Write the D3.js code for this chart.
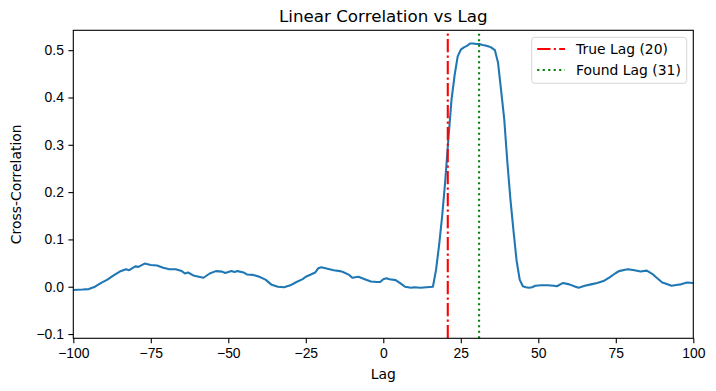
<!DOCTYPE html>
<meta charset="utf-8">
<style>
body { margin: 0; padding: 0; background: #fff; }
svg { display: block; font-family: "DejaVu Sans", sans-serif; }
.tick text { font-size: 13.9px; fill: #000; }
.tick line { stroke: #000; stroke-width: 1.1px; }
.domain { display: none; }
</style>
<body>
<div id="chart"></div>
<script src="https://cdn.jsdelivr.net/npm/d3@7"></script>
<script>
// lag values
var lags = [-100, -97, -95, -93, -91, -89, -87, -85, -83, -82, -80, -79, -77, -75, -73, -71, -69, -67, -65, -64,
	-63, -61, -58, -56, -54, -52, -51, -49, -48, -47, -45, -44, -42, -40, -38, -36, -34, -32, -30, -28,
	-26, -25, -23, -22, -21, -20, -18, -16, -14, -13, -11, -10, -8, -6, -4, -2, -1, 0, 1, 2,
	4, 6, 7, 9, 10, 12, 14, 16, 17, 18, 19, 20, 21, 22, 23, 24, 25, 26, 27, 28,
	29, 30, 31, 32, 33, 34, 35, 36, 37, 38, 39, 40, 41, 42, 43, 44, 45, 46, 47, 48,
	49, 51, 53, 55, 56, 58, 60, 62, 63, 65, 67, 69, 71, 73, 75, 76, 78, 79, 81, 83,
	85, 87, 88, 90, 91, 93, 95, 96, 98, 100];
var corr = [-0.007, -0.006, -0.005, 0.000, 0.008, 0.015, 0.024, 0.032, 0.037, 0.035, 0.043, 0.042, 0.049, 0.046, 0.045, 0.040, 0.037, 0.037, 0.033, 0.028,
	0.030, 0.023, 0.019, 0.028, 0.033, 0.032, 0.029, 0.033, 0.031, 0.033, 0.030, 0.026, 0.025, 0.021, 0.015, 0.004, 0.000, -0.001, 0.003, 0.010,
	0.016, 0.021, 0.027, 0.030, 0.039, 0.041, 0.038, 0.035, 0.033, 0.031, 0.025, 0.019, 0.021, 0.016, 0.011, 0.010, 0.010, 0.016, 0.018, 0.016,
	0.014, 0.005, 0.000, -0.002, -0.001, -0.002, -0.001, 0.000, 0.035, 0.088, 0.150, 0.225, 0.313, 0.395, 0.447, 0.487, 0.501, 0.506, 0.509, 0.514,
	0.514, 0.513, 0.513, 0.511, 0.510, 0.508, 0.505, 0.500, 0.474, 0.415, 0.355, 0.265, 0.185, 0.118, 0.055, 0.015, 0.001, -0.001, -0.002, -0.001,
	0.002, 0.003, 0.003, 0.002, 0.001, 0.008, 0.005, 0.000, -0.002, 0.002, 0.005, 0.008, 0.012, 0.020, 0.029, 0.033, 0.036, 0.037, 0.035, 0.032,
	0.034, 0.026, 0.020, 0.009, 0.007, 0.002, 0.004, 0.005, 0.009, 0.008];

// reference lines: where they sit on the axis, and the legend labels
var markerNames = ["True Lag (20)", "Found Lag (31)"];
var markerPos = [20.8, 30.9];
var markerColors = ["#ff0000", "#008000"];
var markerDash = ["13.3,3.3,2.1,3.3", "2.1,3.4"];

var xTicks = [-100, -75, -50, -25, 0, 25, 50, 75, 100];
var yTicks = [-0.1, 0.0, 0.1, 0.2, 0.3, 0.4, 0.5];

var width = 716, height = 391;
var margin = {left: 73.3, right: 716 - 693.3, top: 30.3, bottom: 391 - 338.3};
var iw = width - margin.left - margin.right,
	ih = height - margin.top - margin.bottom;

var x = d3.scaleLinear().domain([-100, 100]).range([0, iw]);
var y = d3.scaleLinear().domain([-0.109, 0.542]).range([ih, 0]);

var svg = d3.select("#chart").append("svg")
	.attr("width", width)
	.attr("height", height);

var g = svg.append("g")
	.attr("transform", "translate(" + margin.left + "," + margin.top + ")");

g.append("defs").append("clipPath").attr("id", "clip")
	.append("rect").attr("width", iw).attr("height", ih);

// axes
g.append("g")
	.attr("transform", "translate(0," + ih + ")")
	.call(d3.axisBottom(x).tickValues(xTicks).tickSize(4.9).tickPadding(4.5)
		.tickFormat(function(d) { return String(d).replace("-", "\u2212"); }));

g.append("g")
	.call(d3.axisLeft(y).tickValues(yTicks).tickSize(4.9).tickPadding(4.5)
		.tickFormat(function(d) { return d3.format(".1f")(d).replace("-", "\u2212"); }));

// curve
var line = d3.line()
	.x(function(d, i) { return x(lags[i]); })
	.y(function(d) { return y(d); });

g.append("path")
	.datum(corr)
	.attr("clip-path", "url(#clip)")
	.attr("fill", "none")
	.attr("stroke", "#1f77b4")
	.attr("stroke-width", 2.08)
	.attr("stroke-linejoin", "round")
	.attr("d", line);

// vertical marker lines
g.selectAll(".marker")
	.data(markerPos).enter()
	.append("line")
	.attr("class", "marker")
	.attr("x1", function(d) { return x(d); })
	.attr("x2", function(d) { return x(d); })
	.attr("y1", ih)
	.attr("y2", 0)
	.attr("stroke", function(d, i) { return markerColors[i]; })
	.attr("stroke-width", 2.08)
	.attr("stroke-dasharray", function(d, i) { return markerDash[i]; });

// frame
g.append("rect")
	.attr("width", iw)
	.attr("height", ih)
	.attr("fill", "none")
	.attr("stroke", "#000")
	.attr("stroke-width", 1.1);

// legend
var legend = g.append("g").attr("transform", "translate(" + (iw - 161.6) + ",7)");
legend.append("rect")
	.attr("width", 155)
	.attr("height", 46)
	.attr("rx", 3)
	.attr("fill", "#fff")
	.attr("fill-opacity", 0.8)
	.attr("stroke", "#d5d5d5")
	.attr("stroke-width", 1);

var rows = legend.selectAll(".row")
	.data(markerNames).enter()
	.append("g")
	.attr("transform", function(d, i) { return "translate(0," + (11.7 + i * 21) + ")"; });

rows.append("line")
	.attr("x1", 5.5).attr("x2", 33.3)
	.attr("stroke", function(d, i) { return markerColors[i]; })
	.attr("stroke-width", 2.08)
	.attr("stroke-dasharray", function(d, i) { return markerDash[i]; });

rows.append("text")
	.attr("x", 44.3)
	.attr("dy", "0.35em")
	.style("font-size", "13.9px")
	.text(function(d) { return d; });

// title and labels
svg.append("text")
	.attr("x", margin.left + iw / 2)
	.attr("y", 22)
	.attr("text-anchor", "middle")
	.style("font-size", "16.7px")
	.text("Linear Correlation vs Lag");

svg.append("text")
	.attr("x", margin.left + iw / 2)
	.attr("y", 379)
	.attr("text-anchor", "middle")
	.style("font-size", "13.9px")
	.text("Lag");

svg.append("text")
	.attr("transform", "translate(21," + (margin.top + ih / 2) + ") rotate(-90)")
	.attr("text-anchor", "middle")
	.style("font-size", "13.9px")
	.text("Cross-Correlation");
</script>
</body>
